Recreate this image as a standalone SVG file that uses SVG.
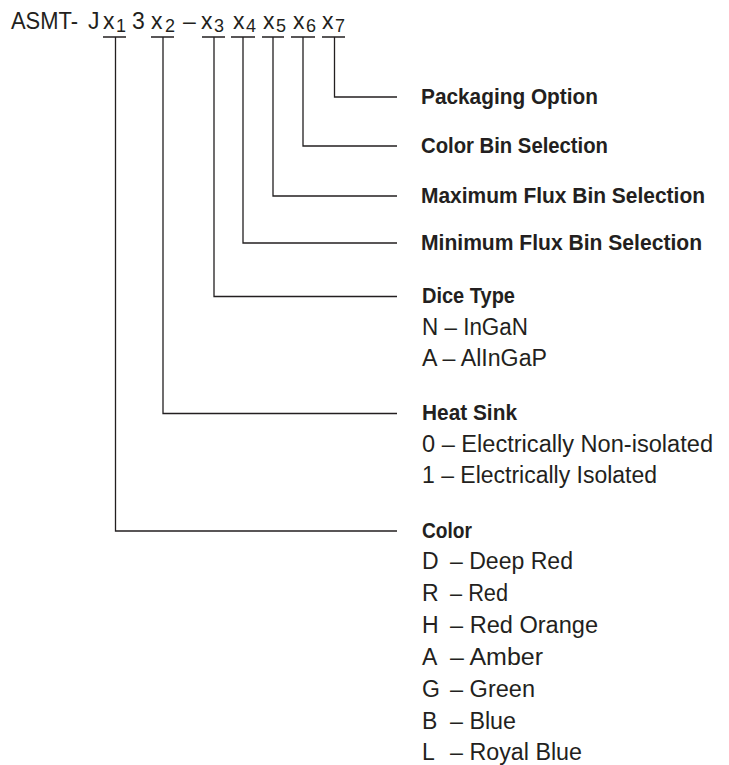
<svg xmlns="http://www.w3.org/2000/svg" width="729" height="765" viewBox="0 0 729 765">
<style>
  .hd { font-family: "Liberation Sans", Arial, sans-serif; font-size: 23px; fill: #231f20; }
  .sub { font-family: "Liberation Sans", Arial, sans-serif; font-size: 18px; fill: #231f20; }
  .lb { font-family: "Liberation Sans", Arial, sans-serif; font-size: 22px; font-weight: bold; fill: #231f20; }
  .it { font-family: "Liberation Sans", Arial, sans-serif; font-size: 23px; fill: #231f20; }
  .ln { fill: none; stroke: #231f20; stroke-width: 1.3; }
</style>
<rect width="729" height="765" fill="#ffffff"/>
<g id="part-number">
  <text class="hd" x="11" y="29" textLength="67" lengthAdjust="spacingAndGlyphs">ASMT-</text>
  <text class="hd" x="88" y="29">J</text>
  <text class="hd" x="103" y="29">x</text><text class="sub" x="116" y="32">1</text>
  <text class="hd" x="132" y="29">3</text>
  <text class="hd" x="151" y="29">x</text><text class="sub" x="165" y="32">2</text>
  <text class="hd" x="183" y="29">–</text>
  <text class="hd" x="201" y="29">x</text><text class="sub" x="214" y="32">3</text>
  <text class="hd" x="233" y="29">x</text><text class="sub" x="246" y="32">4</text>
  <text class="hd" x="263" y="29">x</text><text class="sub" x="276" y="32">5</text>
  <text class="hd" x="293" y="29">x</text><text class="sub" x="306" y="32">6</text>
  <text class="hd" x="322" y="29">x</text><text class="sub" x="335" y="32">7</text>
</g>
<g id="connectors">
  <path class="ln" d="M103 37H126M151 37H174M202 37H225M231 37H255M262 37H284M291 37H315M322 37H345"/>
  <path class="ln" d="M115.5 37V531H397"/>
  <path class="ln" d="M163 37V413.5H397"/>
  <path class="ln" d="M214 37V296.5H397"/>
  <path class="ln" d="M243 37V243H397"/>
  <path class="ln" d="M273 37V196H397"/>
  <path class="ln" d="M303 37V146H397"/>
  <path class="ln" d="M334.5 37V97H397"/>
</g>
<g id="packaging-option">
  <text class="lb" x="421" y="104" textLength="177" lengthAdjust="spacingAndGlyphs">Packaging Option</text>
</g>
<g id="color-bin-selection">
  <text class="lb" x="421" y="153" textLength="187" lengthAdjust="spacingAndGlyphs">Color Bin Selection</text>
</g>
<g id="maximum-flux-bin">
  <text class="lb" x="421" y="203" textLength="284" lengthAdjust="spacingAndGlyphs">Maximum Flux Bin Selection</text>
</g>
<g id="minimum-flux-bin">
  <text class="lb" x="421" y="250" textLength="281" lengthAdjust="spacingAndGlyphs">Minimum Flux Bin Selection</text>
</g>
<g id="dice-type">
  <text class="lb" x="422" y="303" textLength="93" lengthAdjust="spacingAndGlyphs">Dice Type</text>
  <text class="it" x="422" y="335" textLength="106" lengthAdjust="spacingAndGlyphs">N – InGaN</text>
  <text class="it" x="422" y="366" textLength="125" lengthAdjust="spacingAndGlyphs">A – AlInGaP</text>
</g>
<g id="heat-sink">
  <text class="lb" x="422" y="420" textLength="95" lengthAdjust="spacingAndGlyphs">Heat Sink</text>
  <text class="it" x="422" y="452" textLength="291" lengthAdjust="spacingAndGlyphs">0 – Electrically Non-isolated</text>
  <text class="it" x="422" y="483" textLength="235" lengthAdjust="spacingAndGlyphs">1 – Electrically Isolated</text>
</g>
<g id="color">
  <text class="lb" x="422" y="538" textLength="50" lengthAdjust="spacingAndGlyphs">Color</text>
  <text class="it" x="422" y="569">D</text><text class="it" x="450" y="569" textLength="123" lengthAdjust="spacingAndGlyphs">– Deep Red</text>
  <text class="it" x="422" y="601">R</text><text class="it" x="450" y="601" textLength="58" lengthAdjust="spacingAndGlyphs">– Red</text>
  <text class="it" x="422" y="633">H</text><text class="it" x="450" y="633" textLength="148" lengthAdjust="spacingAndGlyphs">– Red Orange</text>
  <text class="it" x="422" y="665">A</text><text class="it" x="450" y="665" textLength="93" lengthAdjust="spacingAndGlyphs">– Amber</text>
  <text class="it" x="422" y="697">G</text><text class="it" x="450" y="697" textLength="85" lengthAdjust="spacingAndGlyphs">– Green</text>
  <text class="it" x="422" y="729">B</text><text class="it" x="450" y="729" textLength="66" lengthAdjust="spacingAndGlyphs">– Blue</text>
  <text class="it" x="422" y="760">L</text><text class="it" x="450" y="760" textLength="132" lengthAdjust="spacingAndGlyphs">– Royal Blue</text>
</g>
</svg>
